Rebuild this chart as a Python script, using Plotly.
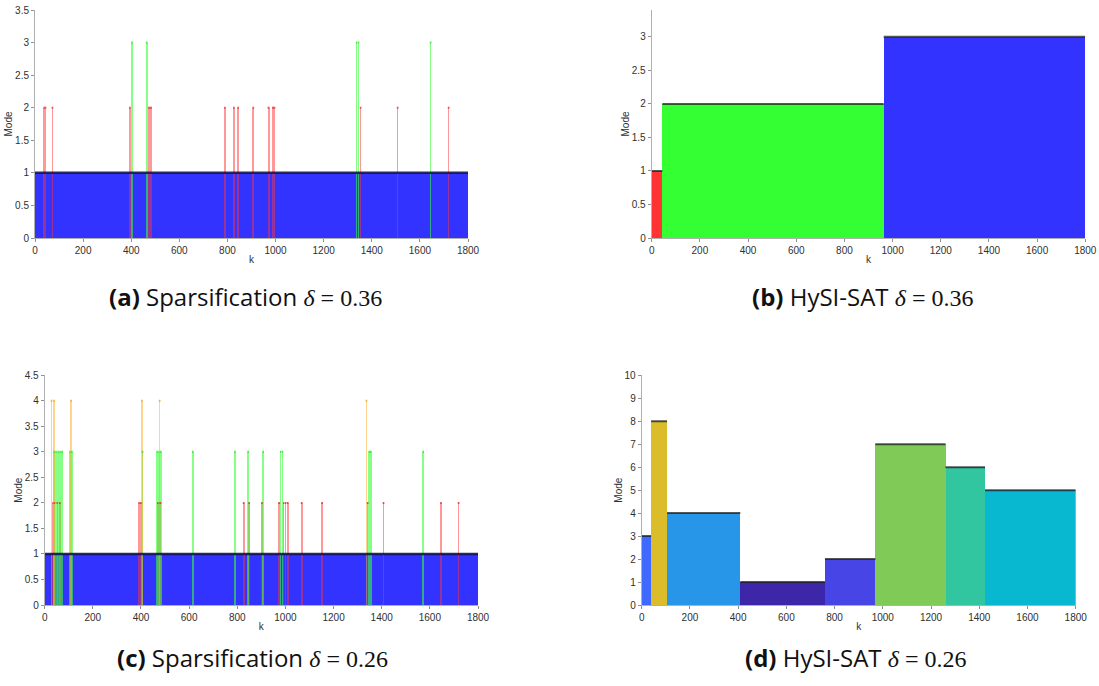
import plotly.graph_objects as go

W, H = 1099, 686

# ---------------- data ----------------
# Panel (a): Sparsification delta=0.36, intervals [start, end] of k and mode
a_base = [[0, 1800, 1]]
a_mode2 = [[35, 47], [69, 76], [391, 398], [470, 486], [786, 793], [823, 830],
           [841, 848], [904, 911], [967, 975], [985, 999], [1350, 1357],
           [1504, 1511], [1716, 1723]]
a_mode3 = [[400, 407], [461, 468], [1334, 1340], [1342, 1348], [1641, 1648]]

# Panel (b): HySI-SAT delta=0.36 segments [start, end, mode]
b_segments = [[0, 44, 1], [44, 963, 2], [963, 1800, 3]]

# Panel (c): Sparsification delta=0.26
c_base = [[0, 1800, 1]]
c_mode2 = [[32, 37], [39, 44], [49, 55], [59, 66], [389, 395], [396, 403],
           [467, 473], [476, 484], [823, 830], [846, 853], [899, 906],
           [970, 978], [990, 996], [998, 1004], [1006, 1013], [1064, 1071],
           [1149, 1156], [1338, 1345], [1404, 1411], [1643, 1650], [1716, 1723]]
c_mode3 = [[36, 42], [44, 50], [53, 59], [61, 67], [69, 76], [102, 108],
           [110, 116], [403, 410], [464, 470], [472, 477], [479, 486],
           [612, 619], [787, 794], [842, 849], [904, 911], [977, 983],
           [985, 991], [1345, 1358], [1569, 1576]]
c_mode4 = [[25, 32], [36, 43], [106, 113], [400, 407], [474, 481], [1333, 1340]]

# Panel (d): HySI-SAT delta=0.26 segments [start, end, mode]
d_segments = [[0, 39, 3], [39, 105, 8], [105, 409, 4], [409, 760, 1],
              [760, 969, 2], [969, 1260, 7], [1260, 1424, 6], [1424, 1800, 5]]

captions = ["(a)", "(b)", "(c)", "(d)"]
caption_names = ["Sparsification", "HySI-SAT", "Sparsification", "HySI-SAT"]
caption_deltas = ["0.36", "0.36", "0.26", "0.26"]

# ---------------- styles ----------------
mode_fill = {1: "rgb(51,51,255)", 2: "rgba(255,51,51,0.5)",
             3: "rgba(51,255,51,0.6)", 4: "rgba(255,170,30,0.5)"}
mode_cap = {1: "rgba(20,20,80,0.9)", 2: "rgba(235,50,50,0.85)",
            3: "rgba(40,230,40,0.85)", 4: "rgba(245,165,40,0.85)"}
seg_fill_b = {1: "rgb(255,51,51)", 2: "rgb(51,255,51)", 3: "rgb(51,51,255)"}
seg_fill_d = {1: "rgb(61,38,168)", 2: "rgb(72,69,230)", 3: "rgb(62,106,255)",
              4: "rgb(40,150,232)", 5: "rgb(8,184,208)", 6: "rgb(50,198,160)",
              7: "rgb(128,203,88)", 8: "rgb(219,188,42)"}

# pixel boxes (left, right, top, bottom)
boxes = [(35, 468, 10, 238), (651.7, 1085.3, 10, 238),
         (44.7, 478, 375.3, 605), (641.7, 1075.7, 375.3, 605)]
yranges = [[0, 3.5], [0, 3.4], [0, 4.5], [0, 10]]
ydticks = [0.5, 0.5, 0.5, 1]

fig = go.Figure()


def add_intervals(idx, intervals, mode, fill, cap, capw=2):
    ax = "" if idx == 0 else str(idx + 1)
    xs = [(s + e) / 2 for s, e in intervals]
    ws = [max(e - s, 1) for s, e in intervals]
    fig.add_trace(go.Bar(x=xs, y=[mode] * len(xs), width=ws, base=0,
                         marker=dict(color=fill, line=dict(width=0)),
                         xaxis="x" + ax, yaxis="y" + ax, showlegend=False,
                         hoverinfo="skip"))
    cx, cy = [], []
    for s, e in intervals:
        cx += [s, e, None]
        cy += [mode, mode, None]
    fig.add_trace(go.Scatter(x=cx, y=cy, mode="lines",
                             line=dict(color=cap, width=capw),
                             xaxis="x" + ax, yaxis="y" + ax, showlegend=False,
                             hoverinfo="skip"))


def add_segments(idx, segs, fills):
    for s, e, m in segs:
        add_intervals(idx, [[s, e]], m, fills[m], "rgba(30,30,30,0.75)")


# panel a
add_intervals(0, [[s, e] for s, e, m in a_base], 1, mode_fill[1], mode_cap[1], 2.5)
add_intervals(0, a_mode2, 2, mode_fill[2], mode_cap[2])
add_intervals(0, a_mode3, 3, mode_fill[3], mode_cap[3])
# panel b
add_segments(1, b_segments, seg_fill_b)
# panel c
add_intervals(2, [[s, e] for s, e, m in c_base], 1, mode_fill[1], mode_cap[1], 2.5)
add_intervals(2, c_mode2, 2, mode_fill[2], mode_cap[2])
add_intervals(2, c_mode3, 3, mode_fill[3], mode_cap[3])
add_intervals(2, c_mode4, 4, mode_fill[4], mode_cap[4])
# panel d
add_segments(3, d_segments, seg_fill_d)

tickfont = dict(family="Liberation Sans, Arial, sans-serif", size=10, color="#303030")
layout = dict(width=W, height=H, margin=dict(l=0, r=0, t=0, b=0, autoexpand=False),
              paper_bgcolor="white", plot_bgcolor="white", barmode="overlay",
              bargap=0, showlegend=False)

for i, (l, r, t, b) in enumerate(boxes):
    ax = "" if i == 0 else str(i + 1)
    layout["xaxis" + ax] = dict(domain=[l / W, r / W], range=[0, 1800],
                                anchor="y" + ax, tickmode="linear", tick0=0, dtick=200,
                                showgrid=False, zeroline=False, showline=True,
                                linecolor="#b0b0b0", linewidth=1, ticks="outside",
                                ticklen=3, tickcolor="#909090", tickfont=tickfont,
                                automargin=False,
                                title=dict(text="k", font=tickfont, standoff=0))
    layout["yaxis" + ax] = dict(domain=[1 - b / H, 1 - t / H], range=yranges[i],
                                anchor="x" + ax, tickmode="linear", tick0=0,
                                dtick=ydticks[i], showgrid=False, zeroline=False,
                                showline=True, linecolor="#b0b0b0", linewidth=1,
                                ticks="outside", ticklen=3, tickcolor="#909090",
                                tickfont=tickfont, automargin=False,
                                title=dict(text="Mode", font=tickfont, standoff=0))

fig.update_layout(**layout)

cap_pos = [(245, 297), (862, 297), (252, 657), (855, 657)]
for i, (cx, cy) in enumerate(cap_pos):
    txt = ("<b>" + captions[i] + "</b> " + caption_names[i] + " "
           "<span style='font-family:Liberation Serif, DejaVu Serif, serif'><i>δ</i> = "
           + caption_deltas[i] + "</span>")
    fig.add_annotation(x=cx / W, y=1 - cy / H, xref="paper", yref="paper",
                       text=txt, showarrow=False, xanchor="center", yanchor="middle",
                       font=dict(family="Open Sans, sans-serif", size=24, color="#111111"))

fig.write_html("out.html", config={"displayModeBar": False, "staticPlot": True},
               post_script="document.body.style.margin='0';document.body.style.overflow='hidden';")
